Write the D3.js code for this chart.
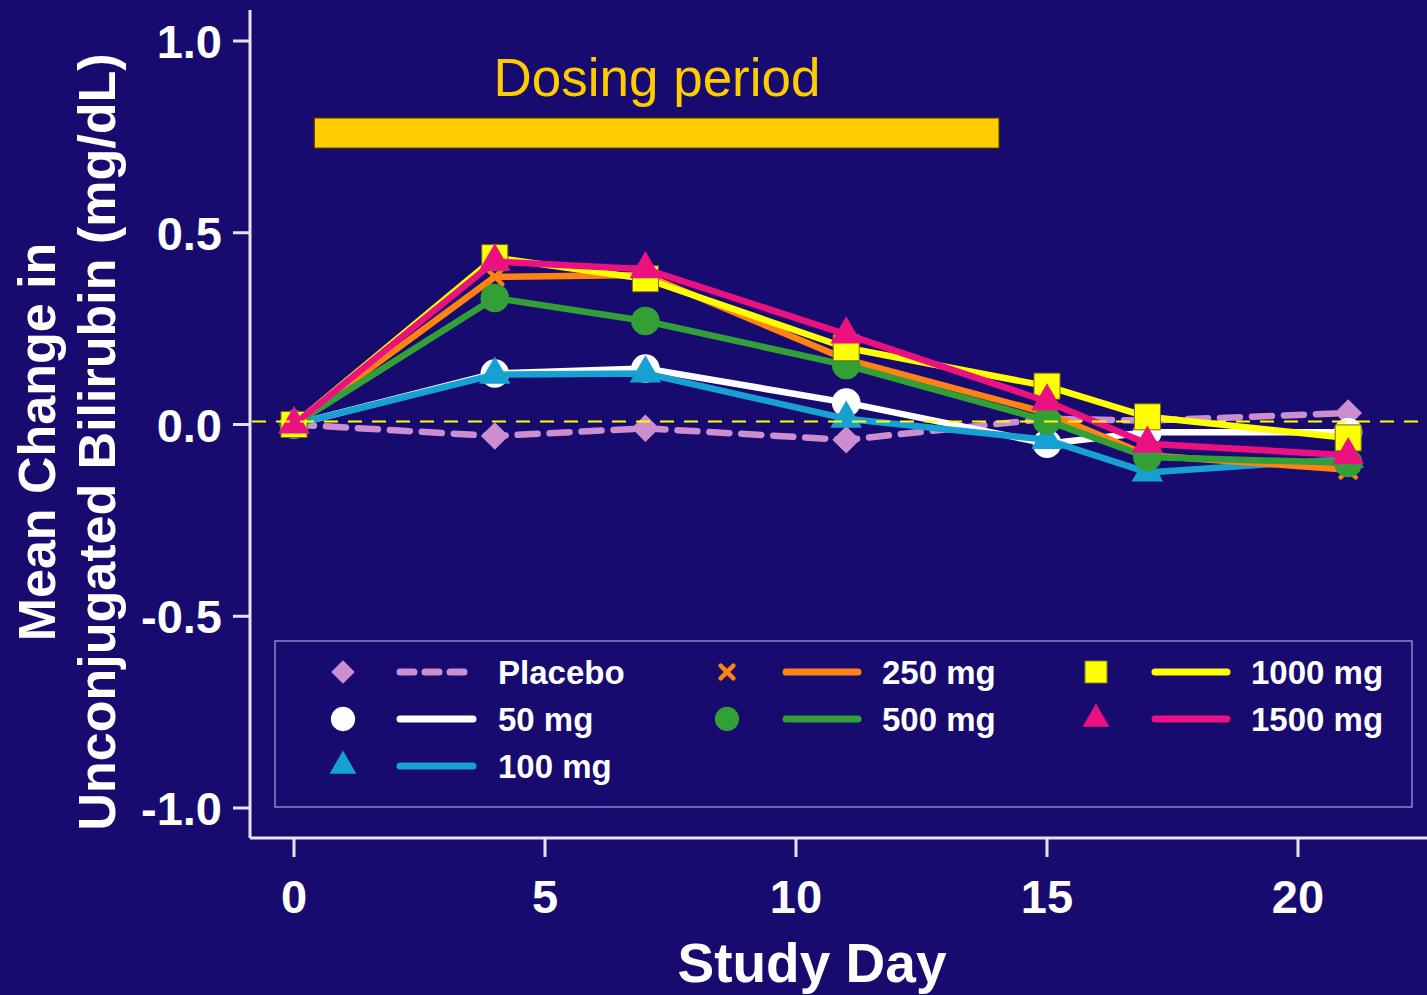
<!DOCTYPE html>
<html>
<head>
<meta charset="utf-8">
<script src="https://cdn.jsdelivr.net/npm/d3@7"></script>
<style>
  html, body { margin: 0; padding: 0; background: #180b6f; }
  svg { display: block; }
  text { font-family: "Liberation Sans", Arial, sans-serif; }
</style>
</head>
<body>
<svg id="chart" width="1427" height="995"></svg>
<script>
// ---- data ----
const days = [0, 4, 7, 11, 15, 17, 21];
const seriesNames = ["Placebo", "50 mg", "100 mg", "250 mg", "500 mg", "1000 mg", "1500 mg"];
const placebo = [0, -0.03, -0.01, -0.04, 0.015, 0.01, 0.03];
const mg50    = [0, 0.133, 0.146, 0.057, -0.05, -0.02, -0.02];
const mg100   = [0, 0.13, 0.133, 0.015, -0.04, -0.125, -0.09];
const mg250   = [0, 0.385, 0.39, 0.17, 0.03, -0.08, -0.118];
const mg500   = [0, 0.33, 0.27, 0.155, 0.01, -0.085, -0.1];
const mg1000  = [0, 0.435, 0.38, 0.2, 0.10, 0.02, -0.035];
const mg1500  = [0, 0.425, 0.405, 0.235, 0.06, -0.05, -0.08];
const yTicks = [1.0, 0.5, 0.0, -0.5, -1.0];
const yTickLabels = ["1.0", "0.5", "0.0", "-0.5", "-1.0"];
const xTicks = [0, 5, 10, 15, 20];
const dosingDays = [0.4, 14.05];
const dosingBand = [0.72, 0.8];

const seriesValues = [placebo, mg50, mg100, mg250, mg500, mg1000, mg1500];
const seriesColors = ["#cc8ed0", "#ffffff", "#17a0d2", "#ff8214", "#32a036", "#ffff00", "#ec1180"];
const seriesShapes = ["diamond", "circle", "triangle", "x", "circle", "square", "triangle"];

// ---- layout ----
const svg = d3.select("#chart");
const W = 1427, H = 995;
svg.append("rect").attr("width", W).attr("height", H).attr("fill", "#180b6f");

const x = d3.scaleLinear().domain([0, 20]).range([294, 1298]);
const y = d3.scaleLinear().domain([-1, 1]).range([808, 41]);
const axisX0 = 250, axisY0 = 838;
const axisColor = "#e6e4f4";

// symbol generator
function symbolPath(shape, scale) {
  const s = scale || 1;
  switch (shape) {
    case "circle": return d3.symbol(d3.symbolCircle, 640 * s * s)();
    case "square": return d3.symbol(d3.symbolSquare, 680 * s * s)();
    case "triangle": return d3.symbol(d3.symbolTriangle, 430 * s * s)();
    case "diamond": return d3.symbol(d3.symbolSquare, 380 * s * s)();
    case "x": return d3.symbol(d3.symbolX, 150 * s * s)();
  }
}
function drawMarker(g, shape, color, cx, cy, scale) {
  const p = g.append("path").attr("d", symbolPath(shape, scale));
  if (shape === "diamond") p.attr("transform", `translate(${cx},${cy}) rotate(45)`);
  else p.attr("transform", `translate(${cx},${cy})`);
  if (shape === "x") {
    p.attr("fill", "none").attr("stroke", color).attr("stroke-width", 4.5).attr("stroke-linecap", "round");
  } else {
    p.attr("fill", color);
    if (shape === "square") p.attr("stroke", "#6a6a20").attr("stroke-width", 1);
  }
  return p;
}

// ---- axes ----
const gy = svg.append("g");
gy.append("line").attr("x1", axisX0).attr("x2", axisX0).attr("y1", 10).attr("y2", axisY0)
  .attr("stroke", axisColor).attr("stroke-width", 3);
yTicks.forEach((t, i) => {
  gy.append("line").attr("x1", axisX0 - 17).attr("x2", axisX0).attr("y1", y(t)).attr("y2", y(t))
    .attr("stroke", axisColor).attr("stroke-width", 3);
  gy.append("text").attr("x", 222).attr("y", y(t) + 17).attr("text-anchor", "end")
    .attr("fill", "#ffffff").attr("font-size", 47).attr("font-weight", "bold").text(yTickLabels[i]);
});

const gx = svg.append("g");
gx.append("line").attr("x1", axisX0).attr("x2", W).attr("y1", axisY0).attr("y2", axisY0)
  .attr("stroke", axisColor).attr("stroke-width", 3);
xTicks.forEach(t => {
  gx.append("line").attr("x1", x(t)).attr("x2", x(t)).attr("y1", axisY0).attr("y2", axisY0 + 19)
    .attr("stroke", axisColor).attr("stroke-width", 3);
  gx.append("text").attr("x", x(t)).attr("y", 913).attr("text-anchor", "middle")
    .attr("fill", "#ffffff").attr("font-size", 47).attr("font-weight", "bold").text(t);
});

// axis titles
svg.append("text").attr("x", 812).attr("y", 982).attr("text-anchor", "middle")
  .attr("fill", "#ffffff").attr("font-size", 55).attr("font-weight", "bold").text("Study Day");
svg.append("text").attr("transform", "translate(55,442) rotate(-90)").attr("text-anchor", "middle")
  .attr("fill", "#ffffff").attr("font-size", 52).attr("font-weight", "bold").text("Mean Change in");
svg.append("text").attr("transform", "translate(115,442) rotate(-90)").attr("text-anchor", "middle")
  .attr("fill", "#ffffff").attr("font-size", 52).attr("font-weight", "bold").text("Unconjugated Bilirubin (mg/dL)");

// dosing period
svg.append("rect").attr("x", x(dosingDays[0])).attr("y", y(dosingBand[1]))
  .attr("width", x(dosingDays[1]) - x(dosingDays[0])).attr("height", y(dosingBand[0]) - y(dosingBand[1]))
  .attr("fill", "#ffcc00").attr("stroke", "#3a2a10").attr("stroke-width", 1.5);
svg.append("text").attr("x", 657).attr("y", 96).attr("text-anchor", "middle")
  .attr("fill", "#ffcc00").attr("font-size", 53).text("Dosing period");

// legend box
svg.append("rect").attr("x", 275).attr("y", 641).attr("width", 1137).attr("height", 166)
  .attr("fill", "none").attr("stroke", "#8c88c8").attr("stroke-width", 1.5);

// ---- series ----
const line = d3.line().x((d, i) => x(days[i])).y(d => y(d));
const gs = svg.append("g");
seriesValues.forEach((vals, si) => {
  const g = gs.append("g");
  const p = g.append("path").attr("d", line(vals)).attr("fill", "none")
    .attr("stroke", seriesColors[si]).attr("stroke-width", 6.5).attr("stroke-linejoin", "round");
  if (si === 0) p.attr("stroke-dasharray", "20,12").attr("stroke-linecap", "round");
  vals.forEach((v, i) => drawMarker(g, seriesShapes[si], seriesColors[si], x(days[i]), y(v), 1));
});

// zero reference line
svg.append("line").attr("x1", axisX0 + 2).attr("x2", W).attr("y1", y(0) - 3).attr("y2", y(0) - 3)
  .attr("stroke", "#ffff00").attr("stroke-width", 2).attr("stroke-dasharray", "14,10");

// ---- legend ----
const legendCols = [
  { mx: 343, lx1: 400, lx2: 473, tx: 498 },
  { mx: 727, lx1: 786, lx2: 858, tx: 882 },
  { mx: 1096, lx1: 1155, lx2: 1227, tx: 1251 }
];
const legendRows = [672, 719, 766];
const legendPlace = [[0, 0], [0, 1], [0, 2], [1, 0], [1, 1], [2, 0], [2, 1]];
const gl = svg.append("g");
seriesNames.forEach((name, si) => {
  const c = legendCols[legendPlace[si][0]];
  const ry = legendRows[legendPlace[si][1]];
  drawMarker(gl, seriesShapes[si], seriesColors[si], c.mx, ry, 0.85);
  const l = gl.append("line").attr("x1", c.lx1).attr("x2", c.lx2).attr("y1", ry).attr("y2", ry)
    .attr("stroke", seriesColors[si]).attr("stroke-width", 7).attr("stroke-linecap", "round");
  if (si === 0) l.attr("stroke-dasharray", "14,11");
  gl.append("text").attr("x", c.tx).attr("y", ry + 12).attr("fill", "#ffffff")
    .attr("font-size", 33).attr("font-weight", "bold").text(name);
});
</script>
</body>
</html>
